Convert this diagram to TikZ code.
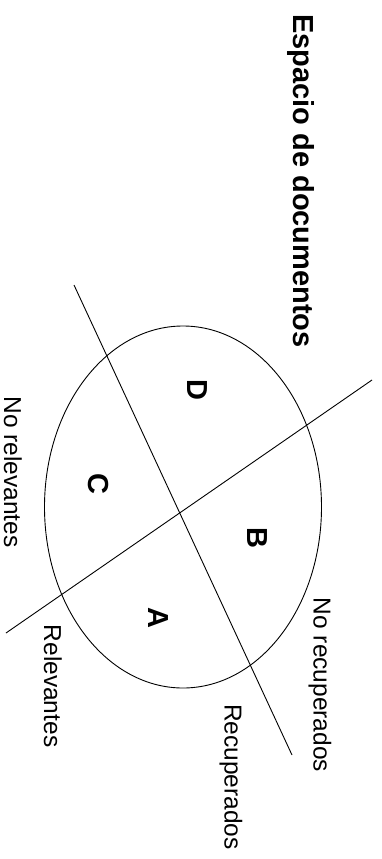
\documentclass[tikz,border=0pt]{standalone}
\usepackage{fontspec}
\setmainfont{Liberation Sans}
\begin{document}
\begin{tikzpicture}[x=1pt,y=-1pt,
  lbl/.style={inner sep=0pt,rotate=-90,font=\fontsize{24.5}{28}\selectfont},
  region/.style={inner sep=0pt,rotate=-90,font=\fontsize{29}{33}\selectfont\bfseries},
  ttl/.style={inner sep=0pt,rotate=-90,font=\fontsize{29}{33}\selectfont\bfseries},
  ln/.style={line width=0.9pt}]
\useasboundingbox (0,0) rectangle (381,859);
\coordinate (c) at (183,507);
\draw[ln] (c) ellipse [x radius=138.5pt, y radius=181pt];
\coordinate (r1) at (74,285);
\coordinate (r2) at (292,755);
\coordinate (v1) at (372,380);
\coordinate (v2) at (6,633);
\draw[ln] (r1) -- (r2);
\draw[ln] (v1) -- (v2);
\node[ttl] (title) at (301,181) {Espacio de documentos};
\node[region] (D) at (197,390) {D};
\node[region] (C) at (98,484) {C};
\node[region] (B) at (257,538) {B};
\node[region] (A) at (158,618) {A};
\node[lbl] (nrel) at (13,472) {No relevantes};
\node[lbl] (rel) at (53,686) {Relevantes};
\node[lbl] (rec) at (231,777) {Recuperados};
\node[lbl] (nrec) at (320,685) {No recuperados};
\end{tikzpicture}
\end{document}
